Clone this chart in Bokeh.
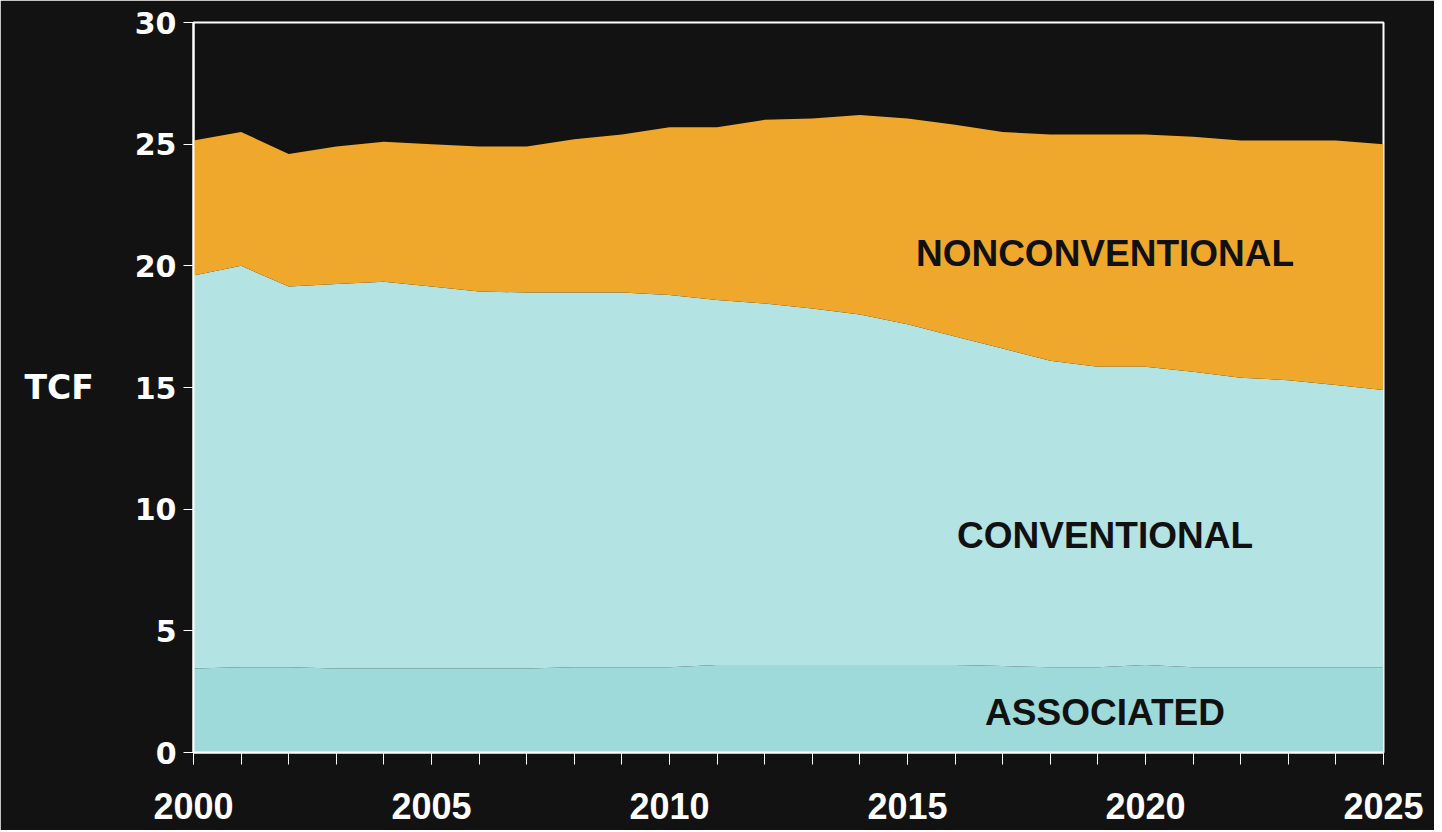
from bokeh.plotting import figure
from bokeh.models import ColumnDataSource, FixedTicker, Label, Range1d
from bokeh.embed import file_html
from bokeh.resources import INLINE

years = list(range(2000, 2026))
associated = [3.45, 3.5, 3.5, 3.45, 3.45, 3.45, 3.45, 3.45, 3.5, 3.5, 3.5, 3.6, 3.6,
              3.6, 3.6, 3.6, 3.6, 3.55, 3.5, 3.5, 3.6, 3.5, 3.5, 3.5, 3.5, 3.5]
conventional = [16.15, 16.5, 15.65, 15.8, 15.9, 15.7, 15.5, 15.45, 15.4, 15.4, 15.3, 15.0, 14.85,
                14.65, 14.4, 14.0, 13.5, 13.05, 12.6, 12.35, 12.25, 12.15, 11.9, 11.8, 11.6, 11.4]
nonconventional = [5.55, 5.5, 5.45, 5.65, 5.75, 5.85, 5.95, 6.0, 6.3, 6.5, 6.9, 7.1, 7.55,
                   7.8, 8.2, 8.45, 8.7, 8.9, 9.3, 9.55, 9.55, 9.65, 9.75, 9.85, 10.05, 10.1]
x_ticks = [2000, 2005, 2010, 2015, 2020, 2025]
y_ticks = [0, 5, 10, 15, 20, 25, 30]
series_names = ["ASSOCIATED", "CONVENTIONAL", "NONCONVENTIONAL"]

BG = "#121212"
source = ColumnDataSource(dict(year=years, assoc=associated, conv=conventional, noncon=nonconventional))

p = figure(frame_width=1190, frame_height=730,
           min_border_left=193, min_border_right=51, min_border_top=22, min_border_bottom=78,
           x_range=Range1d(2000, 2025), y_range=Range1d(0, 30),
           output_backend="svg", toolbar_location=None,
           background_fill_color=BG, border_fill_color=BG)

p.varea_stack(stackers=["assoc", "conv", "noncon"], x="year",
              color=["#9fdada", "#b4e3e3", "#efa82b"], source=source)

p.grid.visible = False
p.outline_line_color = "white"
p.outline_line_width = 2

# x axis
p.xaxis.ticker = FixedTicker(ticks=x_ticks, minor_ticks=years)
p.xaxis.axis_line_color = "white"
p.xaxis.axis_line_width = 2
p.xaxis.major_tick_line_color = "white"
p.xaxis.minor_tick_line_color = "white"
p.xaxis.major_tick_in = 0
p.xaxis.minor_tick_in = 0
p.xaxis.major_tick_out = 12
p.xaxis.minor_tick_out = 12
p.xaxis.major_label_text_color = "white"
p.xaxis.major_label_text_font = "Liberation Sans"
p.xaxis.major_label_text_font_style = "bold"
p.xaxis.major_label_text_font_size = "36px"
p.xaxis.major_label_standoff = 28

# y axis
p.yaxis.ticker = FixedTicker(ticks=y_ticks, minor_ticks=[])
p.yaxis.axis_line_color = "white"
p.yaxis.axis_line_width = 2
p.yaxis.major_tick_line_color = "white"
p.yaxis.major_tick_in = 0
p.yaxis.major_tick_out = 10
p.yaxis.major_label_text_color = "white"
p.yaxis.major_label_text_font = "DejaVu Sans"
p.yaxis.major_label_text_font_style = "bold"
p.yaxis.major_label_text_font_size = "30px"
p.yaxis.major_label_standoff = 7
p.yaxis.axis_label = "TCF"
p.yaxis.axis_label_orientation = "horizontal"
p.yaxis.axis_label_text_color = "white"
p.yaxis.axis_label_text_font = "DejaVu Sans"
p.yaxis.axis_label_text_font_style = "bold"
p.yaxis.axis_label_text_font_size = "33px"
p.yaxis.axis_label_standoff = 38

label_pos = [(2019.15, 1.65), (2019.15, 8.9), (2019.15, 20.5)]
for name, (lx, ly) in zip(series_names, label_pos):
    p.add_layout(Label(x=lx, y=ly, text=name, text_align="center", text_baseline="middle",
                       text_font="Liberation Sans", text_font_style="bold",
                       text_font_size="37px", text_color="#111111"))

open("out.html", "w").write(file_html(p, INLINE))
